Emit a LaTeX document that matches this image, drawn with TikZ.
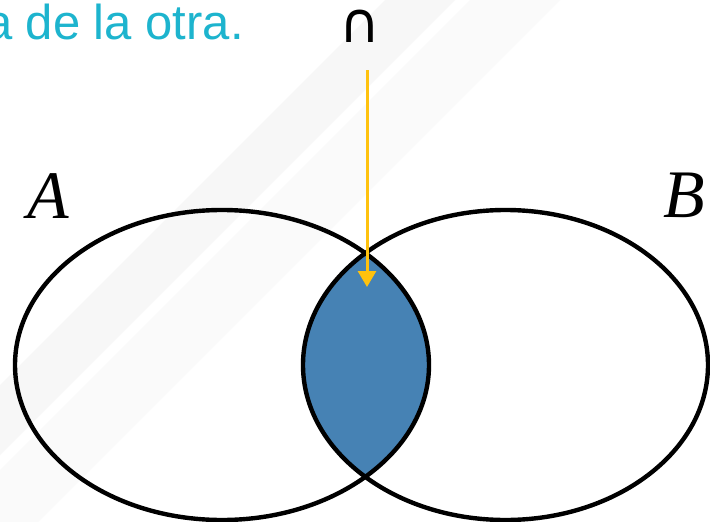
\documentclass[tikz,border=0pt]{standalone}
\usepackage{fontspec}
\setmainfont{Liberation Sans}
\newfontfamily\simbolo{DejaVu Sans}
\newfontfamily\letra{Liberation Serif}
\usetikzlibrary{arrows.meta}
\definecolor{turquesa}{HTML}{1DB4CE}
\definecolor{ambar}{HTML}{FFC20E}
\definecolor{acero}{HTML}{4682B4}
\begin{document}
\begin{tikzpicture}[x=1pt,y=-1pt,
      conjunto/.style={draw=black,line width=4.4pt},
      flecha/.style={-{Triangle[width=18pt,length=16pt]},draw=ambar,line width=3pt},
      etiqueta/.style={inner sep=0pt,font=\letra\itshape\fontsize{68}{68}\selectfont}]
    \useasboundingbox (0,0) rectangle (710,522);
    % Fondo con franjas claras
    \fill[white] (0,0) rectangle (710,522);
    \fill[black!3] (0,385) -- (385,0) -- (455,0) -- (0,455) -- cycle;
    \fill[black!2] (0,470) -- (470,0) -- (560,0) -- (38,522) -- (0,522) -- cycle;
    % Textos
    \node[font=\fontsize{49}{49}\selectfont,text=turquesa,anchor=base east,inner sep=0pt]
      (frase) at (244,39) {a de la otra.};
    \node[font=\simbolo\fontsize{56}{56}\selectfont,anchor=south,inner sep=0pt]
      (interseccion) at (360,43) {∩};
    \node[etiqueta,anchor=base west] (A) at (27,218) {A};
    \node[etiqueta,anchor=base west] (B) at (663,217) {B};
    % Conjuntos A y B, con la interseccion rellena
    \coordinate (cA) at (222,365);
    \coordinate (cB) at (505.5,365);
    \begin{scope}
      \clip (cA) ellipse [x radius=207,y radius=155];
      \fill[acero] (cB) ellipse [x radius=202.5,y radius=155];
    \end{scope}
    \draw[conjunto] (cA) ellipse [x radius=207,y radius=155];
    \draw[conjunto] (cB) ellipse [x radius=202.5,y radius=155];
    % Flecha hacia la interseccion
    \coordinate (inicio) at (367,70);
    \coordinate (fin) at (367,287);
    \draw[flecha] (inicio) -- (fin);
  \end{tikzpicture}
\end{document}
